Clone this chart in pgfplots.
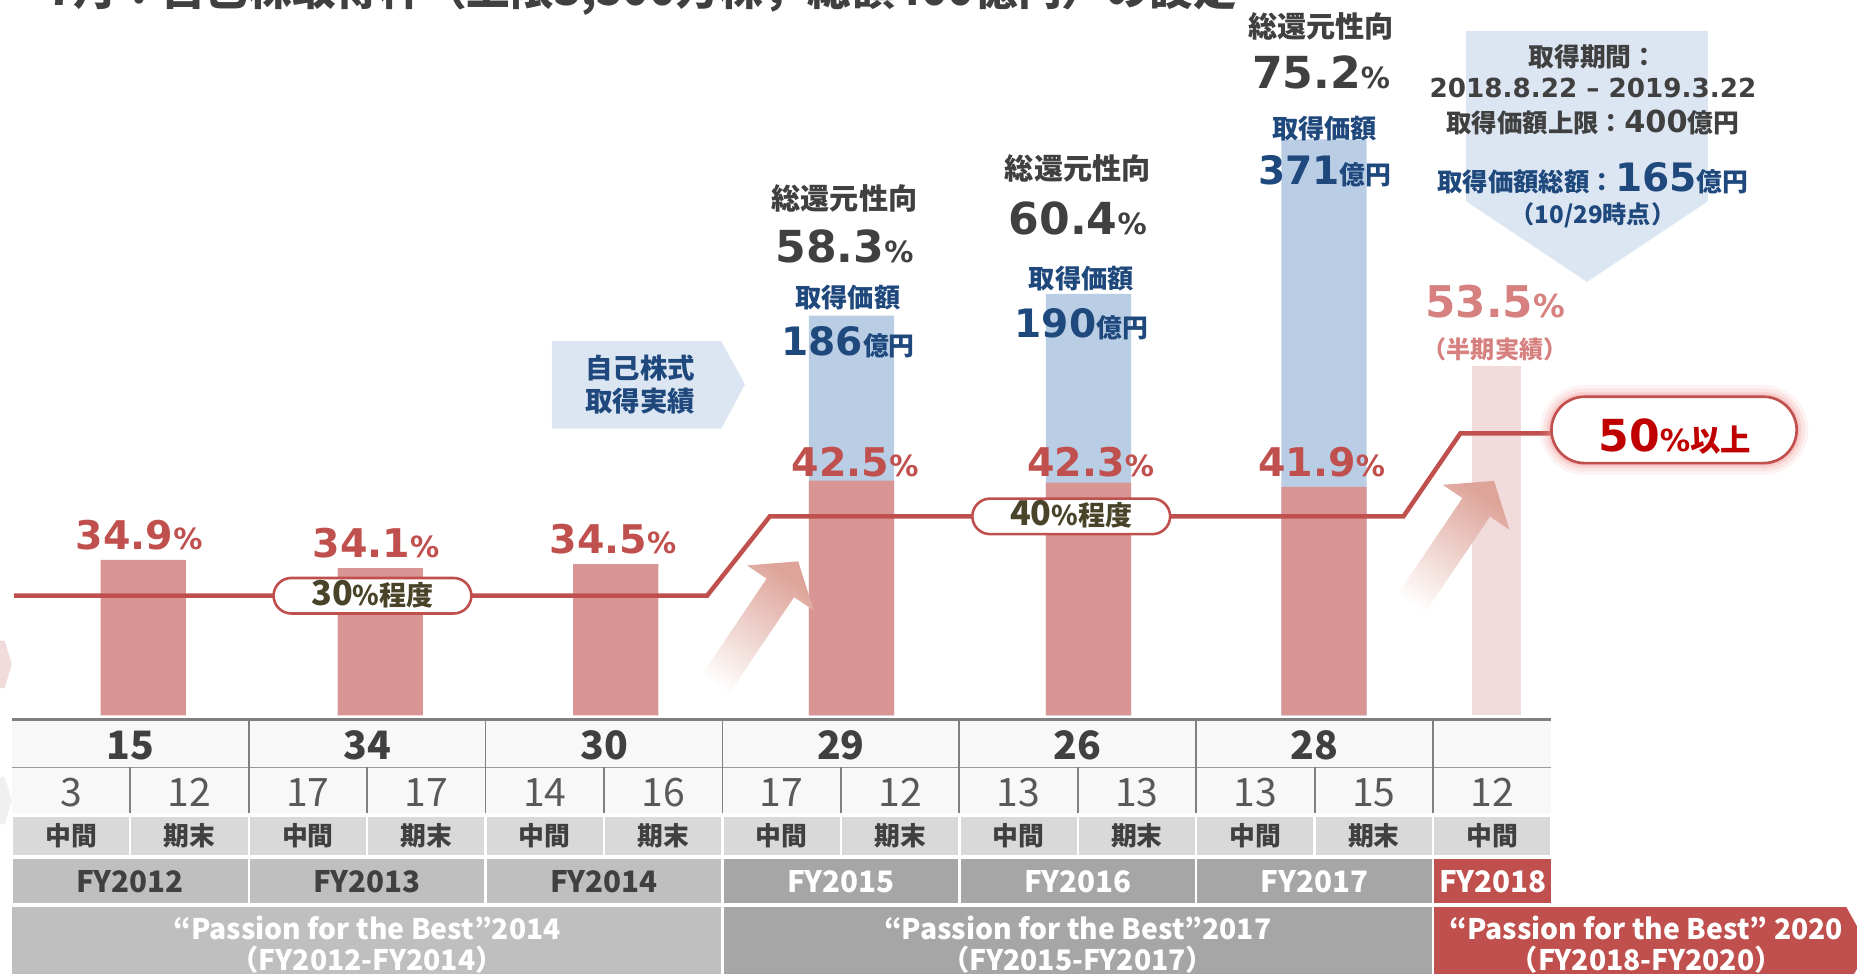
\documentclass[border=0pt]{standalone}
\usepackage{fontspec}
\setmainfont{Noto Sans CJK JP}
\newfontfamily\vf{DejaVu Sans}
\usepackage{pgfplots}
\pgfplotsset{compat=1.18}

\definecolor{barred}{HTML}{D99594}
\definecolor{barblue}{HTML}{B9CDE5}
\definecolor{barpale}{HTML}{F2DCDB}
\definecolor{lblred}{HTML}{C0504D}
\definecolor{navy}{HTML}{1F497D}
\definecolor{dgray}{HTML}{404040}
\definecolor{mgray}{HTML}{595959}
\definecolor{boxblue}{HTML}{DCE6F2}
\definecolor{pinklbl}{HTML}{D6817F}
\definecolor{olive}{HTML}{494429}
\definecolor{gA}{HTML}{BFBFBF}
\definecolor{gB}{HTML}{A6A6A6}
\definecolor{gC}{HTML}{D9D9D9}
\definecolor{gD}{HTML}{F8F8F8}
\definecolor{rule}{HTML}{808080}
\definecolor{darkred}{HTML}{C00000}
\definecolor{salmon}{HTML}{DA9A8E}
\definecolor{glow}{HTML}{F08C8C}

\newcommand{\fs}[1]{\fontsize{#1}{#1}\selectfont}
% percentage in the Verdana-like face
\newcommand{\pct}[4]{{\color{#1}\vf\bfseries\fs{#2}#4\fs{#3}\%}}
\newcommand{\oku}[1]{{\color{navy}{\vf\bfseries\fs{9.4}#1}{\bfseries\fs{6.2}億円}}}

\begin{document}
\begin{tikzpicture}
\path[use as bounding box] (0,0) rectangle (156.8mm,-82.2mm);
\clip (0,0) rectangle (156.8mm,-82.2mm);

% bars: axis starts at 20%, 1 x unit = 1 px of the layout
\begin{axis}[
  at={(0mm,-60.4mm)}, anchor=south west,
  width=156.8mm, height=60.4mm, scale only axis,
  xmin=0, xmax=1568, ymin=20, ymax=88.56,
  axis lines=none, ticks=none,
]
\addplot[ybar, bar width=72, bar shift=0pt, fill=barblue, draw=none]
  coordinates {(719,58.3) (919,60.4) (1118,75.2)};
\addplot[ybar, bar width=72, bar shift=0pt, fill=barred, draw=none]
  coordinates {(121,34.9) (321,34.1) (520,34.5) (719,42.5) (919,42.3) (1118,41.9)};
\addplot[ybar, bar width=41, bar shift=0pt, fill=barpale, draw=none]
  coordinates {(1263.5,53.5)};
\end{axis}

\begin{scope}[x=0.1mm, y=-0.1mm]
% title (cut at the top, as in the slide)
\node[anchor=base west, inner sep=0] at (39,5)
  {\color{dgray}\bfseries\fs{10.5}7月：自己株取得枠（上限3,500万株，総額400億円）の設定};

% left edge chevrons
\fill[barpale] (0,541)--(4,541)--(10,561)--(4,581)--(0,581)--cycle;
\fill[black!6] (0,656)--(4,656)--(10,676)--(4,696)--(0,696)--cycle;

% faded arrows
\foreach \tx/\ty in {674/474, 1261.5/406}{
  \begin{scope}[shift={(\tx,\ty)}, rotate=56]
    \shade[bottom color=white, top color=salmon!90!white, shading angle=-34]
      (-135,-14)--(-27,-14)--(-27,-34)--(0,0)--(-27,34)--(-27,14)--(-135,14)--cycle;
  \end{scope}
}

% payout policy line
\draw[lblred, line width=0.38mm] (12,503) -- (597,503) -- (650,436) -- (1185,436)
  -- (1233,366) -- (1312,366);

% pills
\draw[lblred, line width=0.22mm, fill=white, rounded corners=1.5mm] (231,488) rectangle (398,518);
\node[anchor=base, inner sep=0] at (314.5,511)
  {\color{olive}\bfseries\fs{8.2}30\fs{6.5}\%程度};
\draw[lblred, line width=0.22mm, fill=white, rounded corners=1.5mm] (821,421) rectangle (988,451);
\node[anchor=base, inner sep=0] at (904.5,444)
  {\color{olive}\bfseries\fs{8.2}40\fs{6.5}\%程度};

\foreach \d/\o in {10/0.10, 7/0.15, 4/0.22, 2/0.3}{
  \fill[glow, opacity=\o, rounded corners=2.8mm+\d*0.1mm]
    (1310-\d,335-\d) rectangle (1517+\d,391+\d);
}
\draw[lblred, line width=0.22mm, fill=white, rounded corners=2.8mm] (1310,335) rectangle (1517,391);
\node[anchor=base, inner sep=0] at (1414,381)
  {\color{darkred}{\vf\bfseries\fs{10.6}50\fs{7.3}\%}{\bfseries\fs{7.3}以上}};

% red payout labels
\node[anchor=base, inner sep=0] at (117.5,463.7) {\pct{lblred}{9.5}{7}{34.9}};
\node[anchor=base, inner sep=0] at (317.4,471) {\pct{lblred}{9.5}{7}{34.1}};
\node[anchor=base, inner sep=0] at (517.5,467.7) {\pct{lblred}{9.5}{7}{34.5}};
\node[anchor=base, inner sep=0] at (722,402.5) {\pct{lblred}{9.5}{7}{42.5}};
\node[anchor=base, inner sep=0] at (921,402.5) {\pct{lblred}{9.5}{7}{42.3}};
\node[anchor=base, inner sep=0] at (1116,402.5) {\pct{lblred}{9.5}{7}{41.9}};

% total return ratio and buyback amounts
\foreach \x/\ya/\yb/\yc/\yd/\v/\m in {
  713/177/221.3/259.9/300.3/58.3/186,
  910/151.6/198.1/243.8/284.8/60.4/190,
  1115.5/31.4/74.6/116.8/155.4/75.2/371}{
  \node[anchor=base, inner sep=0] at (\x,\ya) {\color{dgray}\bfseries\fs{7}総還元性向};
  \node[anchor=base, inner sep=0] at (\x,\yb) {\pct{dgray}{10.6}{7}{\v}};
  \node[anchor=base, inner sep=0] at (\x+3,\yc) {\color{navy}\bfseries\fs{6.3}取得価額};
  \node[anchor=base, inner sep=0] at (\x+3,\yd) {\oku{\m}};
}

% FY2018 half-year
\node[anchor=base, inner sep=0] at (1262.4,268) {\pct{pinklbl}{10.5}{7.6}{53.5}};
\node[anchor=base, inner sep=0] at (1262.4,303) {\color{pinklbl}\bfseries\fs{5.8}（半期実績）};

% buyback box
\fill[boxblue] (466,288) -- (609,288) -- (629,324.5) -- (609,362) -- (466,362) -- cycle;
\node[anchor=base, inner sep=0] at (540.5,319.8) {\color{navy}\bfseries\fs{6.6}自己株式};
\node[anchor=base, inner sep=0] at (540.5,347.8) {\color{navy}\bfseries\fs{6.6}取得実績};

% current programme box
\fill[boxblue] (1238,26) -- (1442,26) -- (1442,170) -- (1340,238) -- (1238,170) -- cycle;
\node[anchor=base, inner sep=0] at (1345,56) {\color{dgray}\bfseries\fs{6.2}取得期間：};
\node[anchor=base, inner sep=0] at (1345,82) {\color{dgray}\vf\bfseries\fs{6.3}2018.8.22 – 2019.3.22};
\node[anchor=base, inner sep=0] at (1345,112)
  {\color{dgray}{\bfseries\fs{6.1}取得価額上限：}{\vf\bfseries\fs{7.3}400}{\bfseries\fs{6.2}億円}};
\node[anchor=base, inner sep=0] at (1345,162)
  {\color{navy}{\bfseries\fs{6.1}取得価額総額：}{\vf\bfseries\fs{9.4}165}{\bfseries\fs{6.2}億円}};
\node[anchor=base, inner sep=0] at (1345,189) {\color{navy}\bfseries\fs{5.8}（10/29時点）};

% ---- table ----
\fill[gD] (10,608) rectangle (1310,686.5);
\draw[rule, line width=0.25mm] (10,607.5) -- (1310,607.5);
\draw[rule!80, line width=0.15mm] (10,648) -- (1310,648);
\foreach \k in {1,...,6} \draw[rule, line width=0.15mm] (10+200*\k,607.5) -- (10+200*\k,686.5);
\foreach \k in {0,...,5} \draw[rule, line width=0.15mm] (110+200*\k,648) -- (110+200*\k,686.5);

\foreach \v [count=\k from 0] in {15,34,30,29,26,28}
  \node[anchor=base, inner sep=0] at (110+200*\k,641.5) {\color{dgray}\bfseries\fs{9.4}\v};
\foreach \v [count=\k from 0] in {3,12,17,17,14,16,17,12,13,13,13,15,12}
  \node[anchor=base, inner sep=0] at (60+100*\k,681) {\color{mgray}\fs{9.4}\v};

\foreach \k in {0,...,12}{
  \fill[gC] (11+100*\k,689.5) rectangle (109+100*\k,722);
  \pgfmathparse{int(mod(\k,2))}
  \ifnum\pgfmathresult=0
    \node[anchor=base, inner sep=0] at (60+100*\k,714) {\color{dgray}\bfseries\fs{6.2}中間};
  \else
    \node[anchor=base, inner sep=0] at (60+100*\k,714) {\color{dgray}\bfseries\fs{6.2}期末};
  \fi
}

\foreach \k/\c/\t in {0/gA/dgray, 1/gA/dgray, 2/gA/dgray, 3/gB/white, 4/gB/white, 5/gB/white}{
  \fill[\c] (11+200*\k,725.5) rectangle (209+200*\k,762.5);
  \pgfmathtruncatemacro\yr{2012+\k}
  \node[anchor=base, inner sep=0] at (110+200*\k,753.5) {\color{\t}\bfseries\fs{7.1}FY\yr};
}
\fill[lblred] (1211,725.5) rectangle (1310,762.5);
\node[anchor=base, inner sep=0] at (1260.5,753.5) {\color{white}\bfseries\fs{7.1}FY2018};

\fill[gA] (10,766) rectangle (609,830);
\fill[gB] (611,766) rectangle (1209,830);
\fill[lblred] (1211,766) -- (1559,766) -- (1578,800) -- (1559,834) -- (1211,834) -- cycle;
\node[anchor=base, inner sep=0] at (310,793) {\color{white}\bfseries\fs{6.8}“Passion for the Best”2014};
\node[anchor=base, inner sep=0] at (310,819.5) {\color{white}\bfseries\fs{6.8}（FY2012-FY2014）};
\node[anchor=base, inner sep=0] at (910,793) {\color{white}\bfseries\fs{6.8}“Passion for the Best”2017};
\node[anchor=base, inner sep=0] at (910,819.5) {\color{white}\bfseries\fs{6.8}（FY2015-FY2017）};
\node[anchor=base, inner sep=0] at (1390,793) {\color{white}\bfseries\fs{6.8}“Passion for the Best” 2020};
\node[anchor=base, inner sep=0] at (1390,819.5) {\color{white}\bfseries\fs{6.8}（FY2018-FY2020）};
\end{scope}
\end{tikzpicture}
\end{document}
